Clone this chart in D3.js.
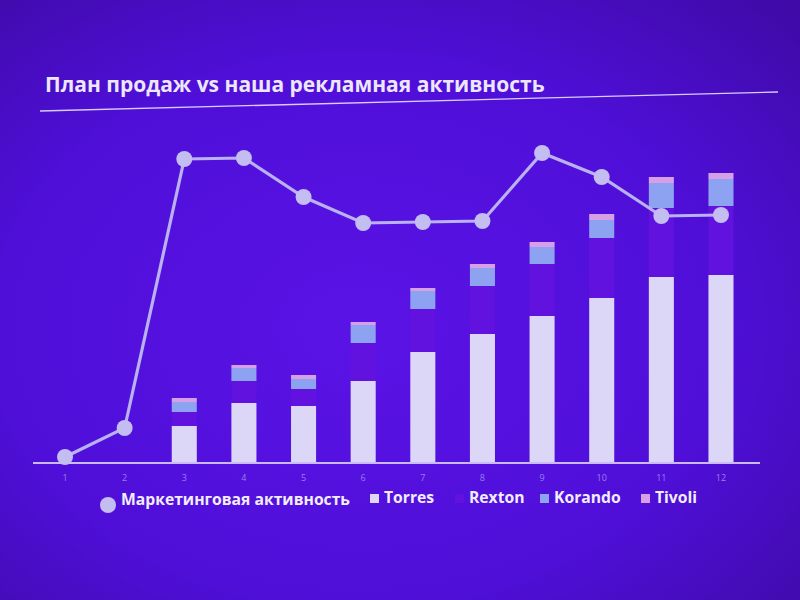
<!DOCTYPE html>
<html><head><meta charset="utf-8">
<script src="https://cdn.jsdelivr.net/npm/d3@7"></script>
<style>html,body{margin:0;padding:0;background:#4e0fd6;}svg{display:block;}</style>
</head><body>
<svg id="chart" width="800" height="600"></svg>
<script>
const months = ["1","2","3","4","5","6","7","8","9","10","11","12"];
const torres  = [0, 0, 37, 60, 57, 82, 111, 129, 147, 165, 186, 188];
const rexton  = [0, 0, 14, 22, 17, 38, 43, 48, 52, 60, 69, 69];
const korando = [0, 0, 10, 13, 10, 18, 18, 18, 17, 18, 25, 27];
const tivoli  = [0, 0, 4, 3, 4, 3, 3, 4, 5, 6, 6, 6];
const marketing = [6, 35, 304, 305, 266, 240, 241, 242, 310, 286, 247, 248];
const seriesNames = ["Torres", "Rexton", "Korando", "Tivoli"];
const lineName = "Маркетинговая активность";
const title = "План продаж vs наша рекламная активность";

const colors = {Torres:"#dcd7f7", Rexton:"#6212df", Korando:"#8ea2f2", Tivoli:"#d89fe9"};

const svg = d3.select("#chart");
const defs = svg.append("defs");
const bg = defs.append("radialGradient").attr("id","bg").attr("cx","45%").attr("cy","55%").attr("r","75%");
bg.append("stop").attr("offset","0%").attr("stop-color","#5a13e6");
bg.append("stop").attr("offset","60%").attr("stop-color","#4f0fd8");
bg.append("stop").attr("offset","100%").attr("stop-color","#3f0aa8");
svg.append("rect").attr("width",800).attr("height",600).attr("fill","url(#bg)");

// title
svg.append("text").attr("x",45).attr("y",92)
  .attr("font-family","'Open Sans', sans-serif").attr("font-weight",700).attr("font-size",21)
  .attr("fill","#ece6ff").text(title);
svg.append("line").attr("x1",40).attr("x2",778).attr("y1",111).attr("y2",92)
  .attr("stroke","#d9ccff").attr("stroke-width",1.3);

const x = d3.scaleBand().domain(months).range([35.2, 750.8]).paddingInner(0.58).paddingOuter(0.29);
const y = d3.scaleLinear().domain([0, 310]).range([463, 153]);

const rows = months.map((m,i)=>({month:m, Torres:torres[i], Rexton:rexton[i], Korando:korando[i], Tivoli:tivoli[i]}));
const stack = d3.stack().keys(seriesNames)(rows);

svg.append("g").selectAll("g").data(stack).join("g")
  .attr("fill", d=>colors[d.key])
  .selectAll("rect").data(d=>d).join("rect")
  .attr("x", d=>x(d.data.month))
  .attr("width", x.bandwidth())
  .attr("y", d=>y(d[1]))
  .attr("height", d=>Math.max(0, y(d[0]) - y(d[1])));

// axis
const xAxis = svg.append("g").attr("transform","translate(0,463)")
  .call(d3.axisBottom(x).tickSize(0).tickPadding(12));
xAxis.select(".domain").attr("stroke","#cbb9ff").attr("stroke-width",2).attr("d","M33,0H760");
xAxis.selectAll("text").attr("fill","#9a7ef0").attr("font-size",9)
  .attr("font-family","'Open Sans', sans-serif");

// line
const cx = m => x(m) + x.bandwidth()/2;
const line = d3.line().x((d,i)=>cx(months[i])).y(d=>y(d));
svg.append("path").datum(marketing).attr("d",line)
  .attr("fill","none").attr("stroke","#b9b1f1").attr("stroke-width",3.2);
svg.append("g").selectAll("circle").data(marketing).join("circle")
  .attr("cx",(d,i)=>cx(months[i])).attr("cy",d=>y(d)).attr("r",8)
  .attr("fill","#c3bdf2");

// legend
const lg = svg.append("g").attr("font-family","'Open Sans', sans-serif")
  .attr("font-weight",700).attr("font-size",15.7).attr("fill","#f1edff");
lg.append("circle").attr("cx",108).attr("cy",505).attr("r",8).attr("fill","#c3bdf2");
lg.append("text").attr("x",121).attr("y",501).attr("dominant-baseline","middle").text(lineName);
const legX = [370, 455, 540, 641];
seriesNames.forEach((n,i)=>{
  lg.append("rect").attr("x",legX[i]).attr("y",494).attr("width",9).attr("height",9).attr("fill",colors[n]);
  lg.append("text").attr("x",legX[i]+14).attr("y",499).attr("dominant-baseline","middle").text(n);
});
</script>
</body></html>
